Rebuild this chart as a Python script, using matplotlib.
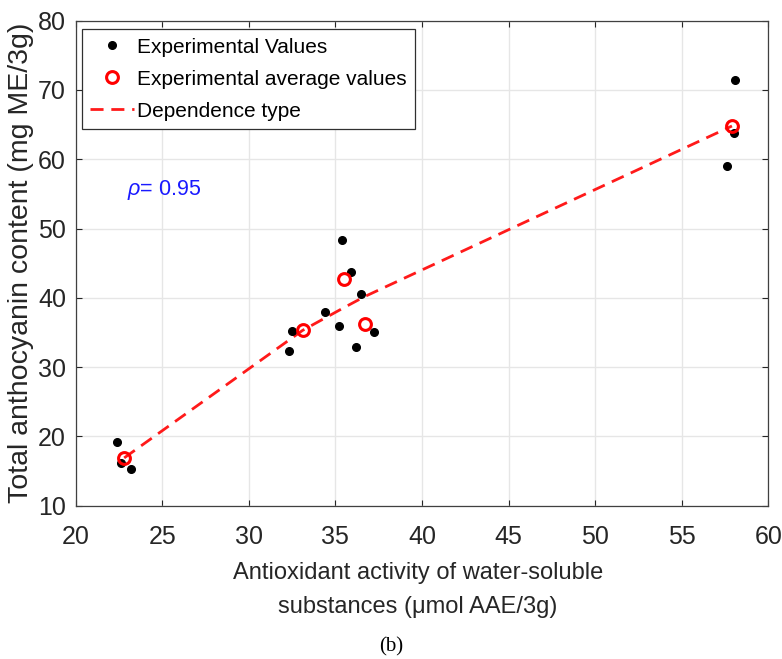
import numpy as np
import matplotlib
matplotlib.use("Agg")
import matplotlib.pyplot as plt

# data
exp_x = [22.4, 22.6, 23.2, 32.5, 32.3, 34.4, 35.4, 35.9, 35.2, 36.5, 37.2, 36.2, 58.1, 58.0, 57.6]
exp_y = [19.2, 16.2, 15.3, 35.2, 32.4, 37.9, 48.4, 43.7, 35.9, 40.5, 35.1, 32.9, 71.4, 63.8, 59.0]
avg_x = [22.8, 33.1, 35.5, 36.7, 57.9]
avg_y = [16.9, 35.3, 42.7, 36.2, 64.8]
dep_x = [22.8, 33.1, 35.5, 36.7, 57.9]
dep_y = [16.9, 35.3, 38.6, 40.2, 64.8]
rho_text = r"$\rho$= 0.95"
x_ticks = [20, 25, 30, 35, 40, 45, 50, 55, 60]
y_ticks = [10, 20, 30, 40, 50, 60, 70, 80]

plt.rcParams['font.family'] = ['Liberation Sans', 'DejaVu Sans']
plt.rcParams['mathtext.fontset'] = 'custom'
plt.rcParams['mathtext.it'] = 'Liberation Sans:italic'
plt.rcParams['mathtext.rm'] = 'Liberation Sans'

fig = plt.figure(figsize=(7.82, 6.59), dpi=100)
ax = fig.add_axes([0.0968, 0.2326, 0.8857, 0.736])

ax.plot(exp_x, exp_y, 'k.', markersize=11, label='Experimental Values', zorder=3)
ax.plot(avg_x, avg_y, 'o', color='#ff0000', mfc='none', markersize=8.5, mew=2.2,
        label='Experimental average values', zorder=4)
ax.plot(dep_x, dep_y, '--', color='#ff1a1a', lw=2, dashes=(4.7, 2.8),
        label='Dependence type', zorder=2)

ax.text(22.95, 55.6, rho_text, color='#1a1aff', fontsize=15.5, ha='left', va='center')

ax.set_xlim(20, 60)
ax.set_ylim(10, 80)
ax.set_xticks(x_ticks)
ax.set_yticks(y_ticks)
ax.grid(True, color='#e6e6e6', lw=1)
ax.set_axisbelow(True)
ax.tick_params(direction='in', length=4, width=0.8, colors='#262626', labelsize=18,
               top=True, right=True, pad=7)
ax.tick_params(axis='x', pad=14)
for s in ax.spines.values():
    s.set_color('#404040')
    s.set_linewidth(0.9)

ax.set_ylabel('Total anthocyanin content (mg ME/3g)', fontsize=20.5, color='#262626', labelpad=3)
# two-line x label, placed line by line
fig.text(0.5345, 0.1214, 'Antioxidant activity of water-soluble',
         ha='center', va='baseline', fontsize=17, color='#262626')
fig.text(0.5345, 0.0698, 'substances (μmol AAE/3g)',
         ha='center', va='baseline', fontsize=17, color='#262626')
fig.text(0.5, 0.018, '(b)', ha='center', va='center', fontsize=15,
         family=['Liberation Serif', 'DejaVu Serif'])

leg = ax.legend(loc='upper left', bbox_to_anchor=(0.0087, 0.982), borderaxespad=0,
                fontsize=15, fancybox=False, framealpha=1, edgecolor='#303030',
                handlelength=2.1, handletextpad=0.15, borderpad=0.4, labelspacing=0.62,
                numpoints=1)
leg.get_frame().set_linewidth(0.9)

fig.savefig('out.png', dpi=100)
